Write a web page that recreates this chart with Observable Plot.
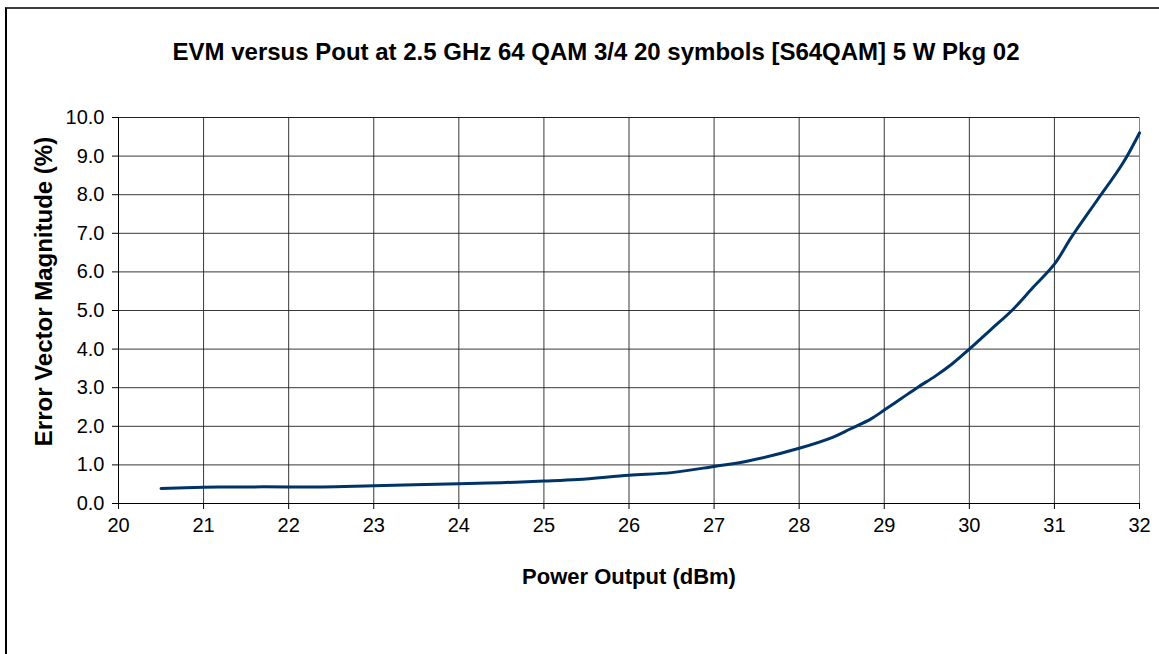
<!DOCTYPE html>
<html>
<head>
<meta charset="utf-8">
<script src="https://cdn.jsdelivr.net/npm/d3@7"></script>
<script src="https://cdn.jsdelivr.net/npm/@observablehq/plot@0.6"></script>
<style>
  html, body { margin: 0; padding: 0; background: #fff; }
  #wrap { position: relative; width: 1159px; height: 654px; overflow: hidden; font-family: "Liberation Sans", Arial, sans-serif; }
  #frame { position: absolute; left: 5px; top: 7px; width: 1200px; height: 700px; border-top: 2px solid #3c3c3c; border-left: 2px solid #000; box-sizing: border-box; pointer-events: none; }
  #header { position: relative; height: 90px; }
  #title { position: absolute; top: 40px; left: 596px; transform: translateX(-50%); white-space: nowrap; font-size: 24px; line-height: 24px; font-weight: bold; color: #000; }
  #chart svg { display: block; overflow: visible; }
</style>
</head>
<body>
<div id="wrap">
  <div id="header"><div id="title">EVM versus Pout at 2.5 GHz 64 QAM 3/4 20 symbols [S64QAM] 5 W Pkg 02</div></div>
  <div id="chart"></div>
  <div id="frame"></div>
</div>
<script>
const pout = [20.5, 21, 21.4, 22, 22.4, 23, 24, 24.5, 25, 25.4, 26, 26.5, 27, 27.4, 28, 28.4, 28.6, 28.85, 29, 29.2, 29.4, 29.6, 29.8, 30, 30.25, 30.5, 30.75, 31, 31.2, 31.5, 31.8, 32];
const evm  = [0.39, 0.42, 0.43, 0.43, 0.43, 0.46, 0.51, 0.54, 0.58, 0.62, 0.73, 0.80, 0.96, 1.10, 1.43, 1.72, 1.93, 2.2, 2.42, 2.72, 3.02, 3.3, 3.62, 4.0, 4.5, 5.0, 5.6, 6.2, 6.9, 7.85, 8.8, 9.6];
const xTicks = [20, 21, 22, 23, 24, 25, 26, 27, 28, 29, 30, 31, 32];
const yTicks = [0, 1, 2, 3, 4, 5, 6, 7, 8, 9, 10];
const xLabel = "Power Output (dBm)";
const yLabel = "Error Vector Magnitude (%)";

const data = pout.map((p, i) => ({pout: p, evm: evm[i]}));
const font = "Liberation Sans, Arial, sans-serif";

const chart = Plot.plot({
  width: 1159,
  height: 564,
  marginTop: 27,
  marginBottom: 151,
  marginLeft: 118,
  marginRight: 20,
  style: {fontFamily: font, fontSize: "20px", color: "#000", background: "#fff", overflow: "visible"},
  x: {domain: [20, 32]},
  y: {domain: [0, 10]},
  marks: [
    Plot.gridX(xTicks, {stroke: "#222", strokeOpacity: 0.9, strokeWidth: 1}),
    Plot.gridY(yTicks, {stroke: "#222", strokeOpacity: 0.9, strokeWidth: 1}),
    Plot.ruleY([10], {stroke: "#222"}),
    Plot.ruleX([32], {stroke: "#888"}),
    Plot.ruleX([20], {stroke: "#000"}),
    Plot.ruleY([0], {stroke: "#000"}),
    Plot.axisX({ticks: xTicks, tickSize: 6, tickPadding: 8, label: null, fontSize: 20, stroke: "#000"}),
    Plot.axisY({ticks: yTicks, tickSize: 6, tickPadding: 8, label: null, tickFormat: d3.format(".1f"), fontSize: 20, stroke: "#000"}),
    Plot.line(data, {x: "pout", y: "evm", stroke: "#003366", strokeWidth: 3, curve: "catmull-rom"}),
    Plot.text([xLabel], {text: d => d, frameAnchor: "bottom", textAnchor: "middle", dy: 73, lineAnchor: "middle", fontSize: 22, fontWeight: "bold", fill: "#000"}),
    Plot.text([yLabel], {text: d => d, frameAnchor: "left", textAnchor: "middle", dx: -74, dy: -19, rotate: -90, lineAnchor: "middle", fontSize: 24, fontWeight: "bold", fill: "#000"})
  ]
});
document.getElementById("chart").appendChild(chart);
</script>
</body>
</html>
